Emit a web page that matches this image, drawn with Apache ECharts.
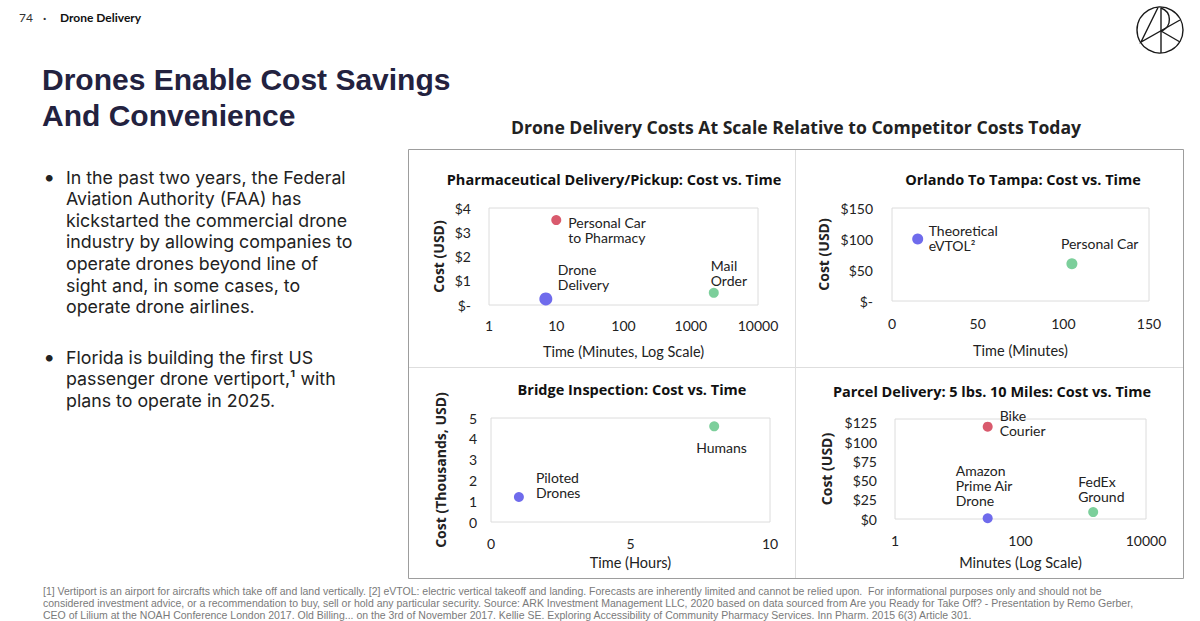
<!DOCTYPE html>
<html>
<head>
<meta charset="utf-8">
<script src="https://cdn.jsdelivr.net/npm/echarts@6/dist/echarts.min.js"></script>
<style>
html,body{margin:0;padding:0;background:#fff;}
#chart{width:1200px;height:621px;}
</style>
</head>
<body>
<div id="chart"></div>
<script>
// ---------------- DATA ----------------
const pharmaLabels = ['Drone\nDelivery', 'Personal Car\nto Pharmacy', 'Mail\nOrder'];
const pharmaMinutes = [7, 10, 2200];
const pharmaCost = [0.25, 3.5, 0.5];

const orlandoLabels = ['Theoretical\neVTOL²', 'Personal Car'];
const orlandoMinutes = [15, 105];
const orlandoCost = [100, 60];

const bridgeLabels = ['Piloted\nDrones', 'Humans'];
const bridgeHours = [1, 8];
const bridgeCostThousands = [1.2, 4.6];

const parcelLabels = ['Bike\nCourier', 'Amazon\nPrime Air\nDrone', 'FedEx\nGround'];
const parcelMinutes = [30, 30, 1440];
const parcelCost = [120, 1, 9];

const panelTitles = [
  'Pharmaceutical Delivery/Pickup: Cost vs. Time',
  'Orlando To Tampa: Cost vs. Time',
  'Bridge Inspection: Cost vs. Time',
  'Parcel Delivery: 5 lbs. 10 Miles: Cost vs. Time'
];
const xAxisNames = ['Time (Minutes, Log Scale)', 'Time (Minutes)', 'Time (Hours)', 'Minutes (Log Scale)'];
const yAxisNames = ['Cost (USD)', 'Cost (USD)', 'Cost (Thousands, USD)', 'Cost (USD)'];

const bullet1 = 'In the past two years, the Federal\nAviation Authority (FAA) has\nkickstarted the commercial drone\nindustry by allowing companies to\noperate drones beyond line of\nsight and, in some cases, to\noperate drone airlines.';
const bullet2 = 'Florida is building the first US\npassenger drone vertiport,¹ with\nplans to operate in 2025.';
const footnoteLines = [
  '[1] Vertiport is an airport for aircrafts which take off and land vertically. [2] eVTOL: electric vertical takeoff and landing. Forecasts are inherently limited and cannot be relied upon.  For informational purposes only and should not be',
  'considered investment advice, or a recommendation to buy, sell or hold any particular security. Source: ARK Investment Management LLC, 2020 based on data sourced from Are you Ready for Take Off? - Presentation by Remo Gerber,',
  'CEO of Lilium at the NOAH Conference London 2017. Old Billing... on the 3rd of November 2017. Kellie SE. Exploring Accessibility of Community Pharmacy Services. Inn Pharm. 2015 6(3) Article 301.'
];

// ---------------- STYLE ----------------
const BLUE = '#6f6bec', RED = '#d95a6d', GREEN = '#7ccf9b';
const FONT = 'Lato, "Noto Sans", sans-serif';
const WIDE = '"Open Sans", "Noto Sans", sans-serif';
const BODY = 'Inter, Lato, sans-serif';
const HEAD = '"Liberation Sans", Arial, sans-serif';
const TXT = '#222222';

function buildPoints(xs, ys, labels, colors, sizes, offsets) {
  return xs.map((x, i) => ({
    value: [x, ys[i]],
    symbolSize: sizes[i],
    itemStyle: { color: colors[i], opacity: 1 },
    label: {
      show: true,
      formatter: labels[i],
      position: 'inside',
      align: 'left',
      verticalAlign: 'middle',
      offset: offsets[i],
      color: TXT,
      fontFamily: FONT,
      fontSize: 14,
      lineHeight: 15,
      textBorderWidth: 0
    }
  }));
}

const grids = [
  { left: 489, top: 208, width: 269, height: 97 },
  { left: 892, top: 208, width: 257, height: 93 },
  { left: 491, top: 418, width: 279, height: 104 },
  { left: 895, top: 419, width: 251, height: 100 }
].map(g => Object.assign(g, { show: true, borderColor: '#dcdcdc', borderWidth: 1, containLabel: false }));

const axisLabelBase = { color: TXT, fontFamily: FONT, fontSize: 14 };
function xAxis(i, extra, margin, nameGap) {
  return Object.assign({
    gridIndex: i,
    name: xAxisNames[i], nameLocation: 'middle', nameGap: nameGap,
    nameTextStyle: { color: TXT, fontFamily: FONT, fontSize: 14.5 },
    axisLine: { show: false }, axisTick: { show: false }, splitLine: { show: false },
    axisLabel: Object.assign({ margin: margin }, axisLabelBase)
  }, extra);
}
function yAxis(i, extra, margin, nameGap, fmt) {
  return Object.assign({
    gridIndex: i, type: 'value',
    name: yAxisNames[i], nameLocation: 'middle', nameGap: nameGap, nameRotate: 90,
    nameTextStyle: { color: TXT, fontFamily: WIDE, fontSize: 14, fontWeight: 'bold' },
    axisLine: { show: false }, axisTick: { show: false }, splitLine: { show: false },
    axisLabel: Object.assign({ margin: margin, formatter: fmt }, axisLabelBase)
  }, extra);
}
const dollarDash = v => (v === 0 ? '$-' : '$' + v);

const graphics = [];
function txt(x, y, text, font, fill, align, valign, extra) {
  graphics.push({ type: 'text', silent: true, style: Object.assign({ x, y, text, font, fill, textAlign: align || 'left', textVerticalAlign: valign || 'middle' }, extra || {}) });
}
// header
txt(19, 17, '74', '12px ' + FONT, '#333');
txt(43, 17, '·', 'bold 12px ' + FONT, '#333');
txt(60, 17, 'Drone Delivery', 'bold 12px ' + FONT, '#111');
// main title
txt(42, 79, 'Drones Enable Cost Savings', 'bold 30px ' + HEAD, '#23223f');
txt(42, 115, 'And Convenience', 'bold 30px ' + HEAD, '#23223f');
// bullets
txt(44, 177, '•', '18px ' + FONT, TXT);
txt(66, 166.2, bullet1, '17.8px ' + BODY, TXT, 'left', 'top', { lineHeight: 21.6 });
txt(44, 357, '•', '18px ' + FONT, TXT);
txt(66, 346.2, bullet2, '17.8px ' + BODY, TXT, 'left', 'top', { lineHeight: 21.6 });
// chart title
txt(796, 127, 'Drone Delivery Costs At Scale Relative to Competitor Costs Today', 'bold 17.6px ' + WIDE, TXT, 'center');
// panel titles
txt(614, 179, panelTitles[0], 'bold 14.5px ' + WIDE, '#111', 'center');
txt(1023, 179, panelTitles[1], 'bold 14.5px ' + WIDE, '#111', 'center');
txt(632, 389, panelTitles[2], 'bold 14.5px ' + WIDE, '#111', 'center');
txt(992, 391, panelTitles[3], 'bold 14.5px ' + WIDE, '#111', 'center');
// footnote (three lines, fitted inside the page)
footnoteLines.forEach((l, i) => txt(43, 591 + i * 11.8, l, '10.5px ' + HEAD, '#7a7a7a'));
// box & dividers
graphics.push({ type: 'rect', silent: true, shape: { x: 408.5, y: 149.5, width: 775, height: 429 }, style: { fill: 'none', stroke: '#9d9d9d', lineWidth: 1 } });
graphics.push({ type: 'line', silent: true, shape: { x1: 795.5, y1: 150, x2: 795.5, y2: 578 }, style: { stroke: '#dedede', lineWidth: 1 } });
graphics.push({ type: 'line', silent: true, shape: { x1: 409, y1: 367.5, x2: 1183, y2: 367.5 }, style: { stroke: '#dedede', lineWidth: 1 } });
// logo
graphics.push({ type: 'circle', silent: true, shape: { cx: 1160, cy: 30, r: 23 }, style: { fill: 'none', stroke: '#1a1a1a', lineWidth: 1.4 } });
graphics.push({ type: 'polyline', silent: true, shape: { points: [[1158, 7.5], [1141, 42], [1180, 20]] }, style: { fill: 'none', stroke: '#1a1a1a', lineWidth: 1.4 } });
graphics.push({ type: 'line', silent: true, shape: { x1: 1161, y1: 7.5, x2: 1161, y2: 53 }, style: { stroke: '#1a1a1a', lineWidth: 1.4 } });
graphics.push({ type: 'line', silent: true, shape: { x1: 1161, y1: 31, x2: 1180, y2: 42 }, style: { stroke: '#1a1a1a', lineWidth: 1.4 } });
graphics.push({ type: 'bezierCurve', silent: true, shape: { x1: 1161, y1: 8, x2: 1162, y2: 31, cpx1: 1172, cpy1: 12, cpx2: 1172, cpy2: 26 }, style: { fill: 'none', stroke: '#1a1a1a', lineWidth: 1.4 } });

const option = {
  backgroundColor: '#ffffff',
  animation: false,
  textStyle: { fontFamily: FONT },
  grid: grids,
  xAxis: [
    xAxis(0, { type: 'log', logBase: 10, min: 1, max: 10000, axisLabel: Object.assign({ margin: 13, formatter: v => String(Math.round(v)) }, axisLabelBase) }, 13, 39),
    xAxis(1, { type: 'value', min: 0, max: 150, interval: 50 }, 15, 42),
    xAxis(2, { type: 'value', min: 0, max: 10, interval: 5 }, 14, 33),
    xAxis(3, { type: 'log', logBase: 100, min: 1, max: 10000, axisLabel: Object.assign({ margin: 14, formatter: v => String(Math.round(v)) }, axisLabelBase) }, 14, 36)
  ],
  yAxis: [
    yAxis(0, { min: 0, max: 4, interval: 1 }, 18, 44, dollarDash),
    yAxis(1, { min: 0, max: 150, interval: 50 }, 19, 62, dollarDash),
    yAxis(2, { min: 0, max: 5, interval: 1 }, 14, 44, v => String(v)),
    yAxis(3, { min: 0, max: 130, interval: 25 }, 18, 62, v => (v % 25 === 0 ? '$' + v : ''))
  ],
  series: [
    { type: 'scatter', xAxisIndex: 0, yAxisIndex: 0,
      data: buildPoints(pharmaMinutes, pharmaCost, pharmaLabels, [BLUE, RED, GREEN], [13, 10, 10], [[12, -21.5], [12, 9.5], [-3, -20]]) },
    { type: 'scatter', xAxisIndex: 1, yAxisIndex: 1,
      data: buildPoints(orlandoMinutes, orlandoCost, orlandoLabels, [BLUE, GREEN], [11, 11], [[11, -1], [-11, -20]]) },
    { type: 'scatter', xAxisIndex: 2, yAxisIndex: 2,
      data: buildPoints(bridgeHours, bridgeCostThousands, bridgeLabels, [BLUE, GREEN], [10, 10], [[17, -12], [-18, 21]]) },
    { type: 'scatter', xAxisIndex: 3, yAxisIndex: 3,
      data: buildPoints(parcelMinutes, parcelCost, parcelLabels, [RED, BLUE, GREEN], [10, 10, 10], [[12, -3.5], [-32, -32.5], [-15, -23]]) }
  ],
  graphic: graphics
};

const chart = echarts.init(document.getElementById('chart'), null, { renderer: 'svg', width: 1200, height: 621 });
chart.setOption(option);
</script>
</body>
</html>
